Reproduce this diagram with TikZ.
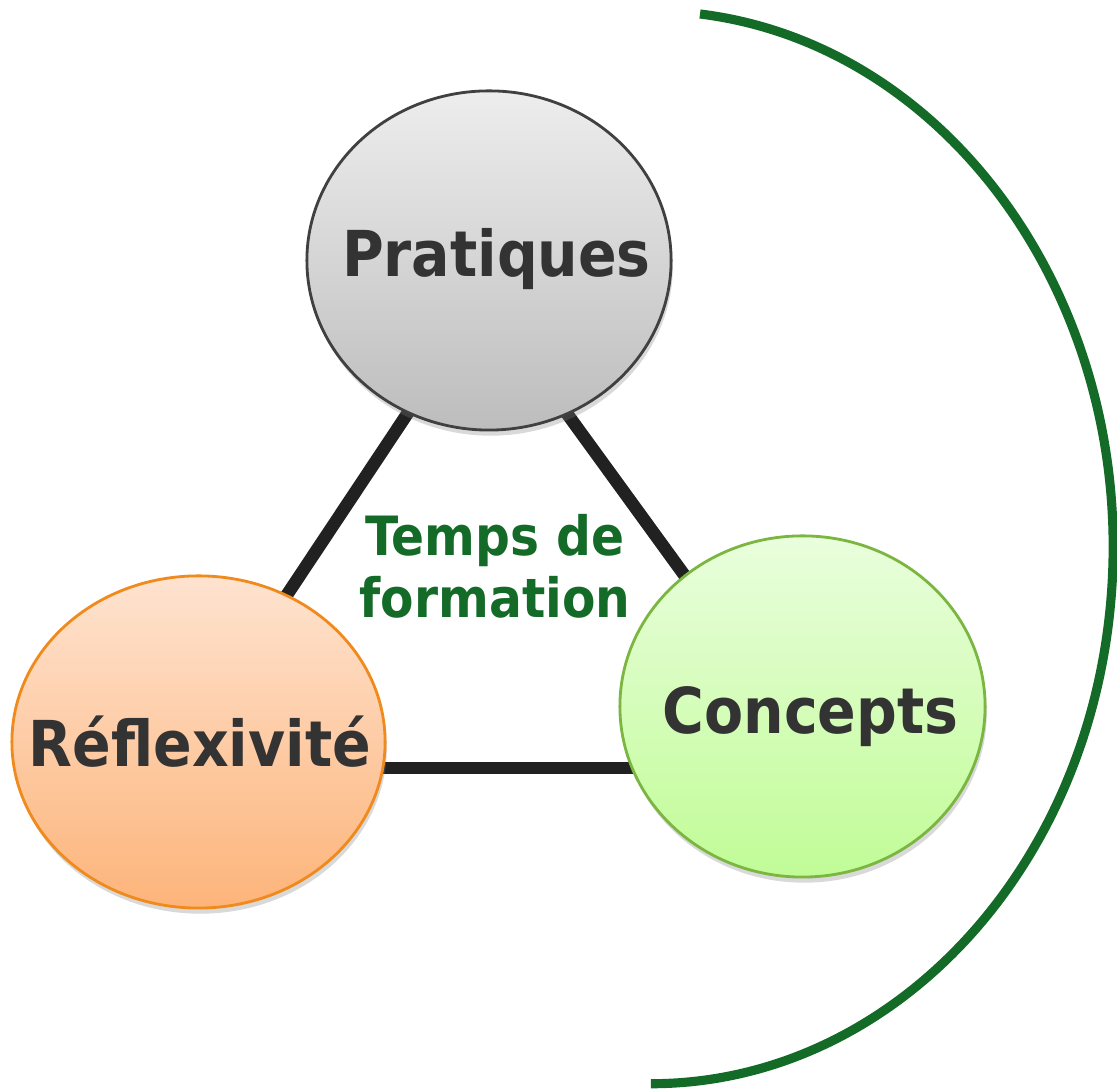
\documentclass[tikz,border=0pt]{standalone}
\usepackage{fontspec}
\newfontfamily\grasfont{DejaVu Sans Condensed Bold}
\usetikzlibrary{shapes.geometric,shadows,backgrounds}
\definecolor{vertfonce}{HTML}{136B27}
\definecolor{gristexte}{HTML}{333333}
\definecolor{orangebord}{HTML}{F08A1C}
\definecolor{orangehaut}{HTML}{FEE3D0}
\definecolor{orangebas}{HTML}{FDB47A}
\definecolor{vertbord}{HTML}{7AB640}
\definecolor{verthaut}{HTML}{E9FEDD}
\definecolor{vertbas}{HTML}{C1FC97}
\begin{document}
\begin{tikzpicture}[x=0.01cm,y=0.01cm]
\tikzstyle{bulle}=[ellipse,draw,line width=0.8pt,outer sep=0pt,inner sep=0pt,
  drop shadow={shadow xshift=0.5pt,shadow yshift=-1.6pt,opacity=0.3}]
\tikzstyle{mot}=[anchor=base,inner sep=0pt,text=gristexte,
  font=\grasfont\fontsize{18}{21}\selectfont]
\tikzstyle{trait}=[line width=3.6pt,draw=black!87,shorten <=-6pt,shorten >=-6pt]
\useasboundingbox (0,0) rectangle (1117,1089);
\node[bulle,draw=black!75,top color=black!7,bottom color=black!26,
  minimum width=3.64cm,minimum height=3.39cm] (p) at (489,828.5) {};
\node[bulle,draw=orangebord,top color=orangehaut,bottom color=orangebas,
  minimum width=3.73cm,minimum height=3.32cm] (r) at (198.5,347) {};
\node[bulle,draw=vertbord,top color=verthaut,bottom color=vertbas,
  minimum width=3.65cm,minimum height=3.41cm] (c) at (802.5,382.5) {};
\begin{scope}[on background layer]
\draw[trait] (p.242.5) -- (r.59.3);
\draw[trait] (p.297.5) -- (c.132.5);
\draw[trait] (r.352.7) -- (r.352.7 -| c.west);
\end{scope}
\node[mot] at (496.5,812) {Pratiques};
\node[mot] at (200,322) {Réflexivité};
\node[mot] at (810.5,355) {Concepts};
\node[anchor=base,align=center,inner sep=0pt,text=vertfonce,
  font=\grasfont\fontsize{15.4}{17.9}\selectfont] (t) at (495,471) {Temps de\\formation};
% arc vert a droite
\coordinate (arc) at (700,1075);
\draw[vertfonce,line width=2.6pt] (arc) arc[start angle=83.9,end angle=-90,
  x radius=4.62cm,y radius=5.361cm];
\end{tikzpicture}
\end{document}
